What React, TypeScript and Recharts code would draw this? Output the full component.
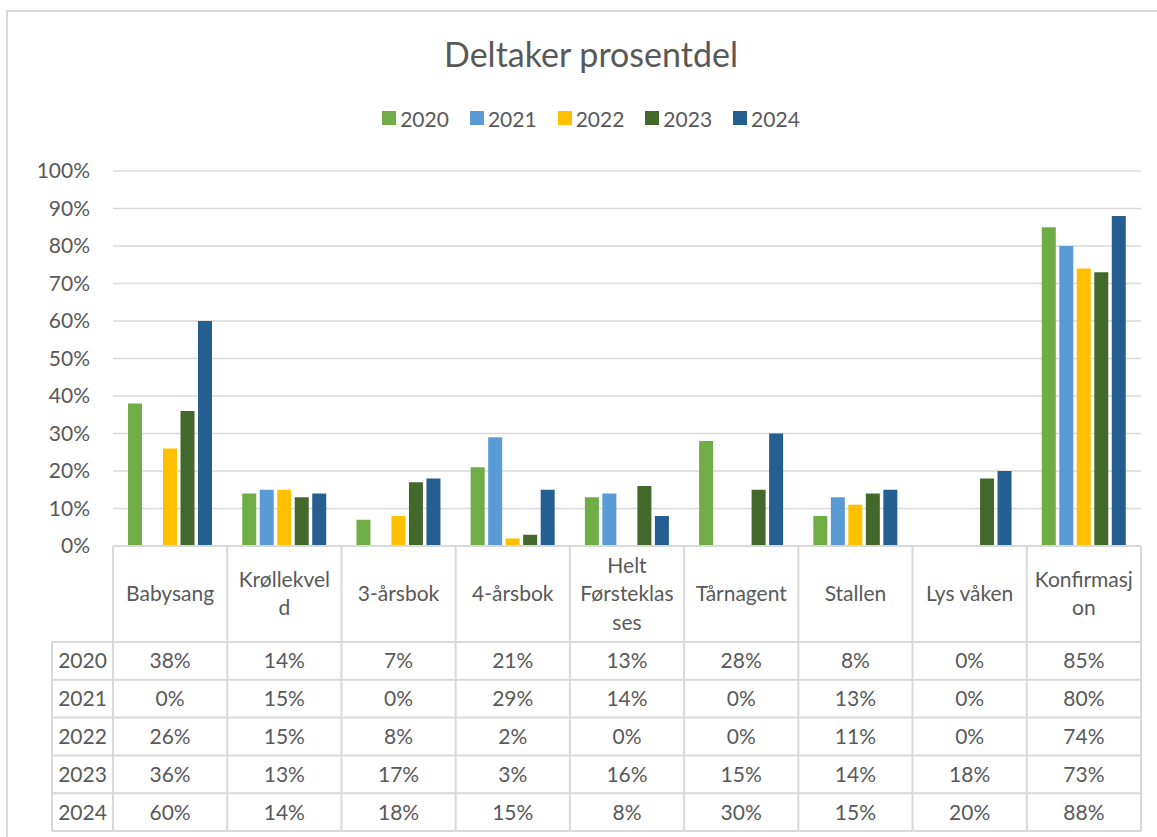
import React from 'react';
import { BarChart, Bar, XAxis, YAxis, CartesianGrid, Legend } from 'recharts';

const categories = ['Babysang', 'Krøllekveld', '3-årsbok', '4-årsbok', 'Helt Førsteklasses', 'Tårnagent', 'Stallen', 'Lys våken', 'Konfirmasjon'];
// how the table header wraps each name
const wrappedLabels: Record<string, string[]> = {
  'Krøllekveld': ['Krøllekvel', 'd'],
  'Helt Førsteklasses': ['Helt', 'Førsteklas', 'ses'],
  'Konfirmasjon': ['Konfirmasj', 'on'],
};

const years = ['2020', '2021', '2022', '2023', '2024'];
const v2020 = [38, 14, 7, 21, 13, 28, 8, 0, 85];
const v2021 = [0, 15, 0, 29, 14, 0, 13, 0, 80];
const v2022 = [26, 15, 8, 2, 0, 0, 11, 0, 74];
const v2023 = [36, 13, 17, 3, 16, 15, 14, 18, 73];
const v2024 = [60, 14, 18, 15, 8, 30, 15, 20, 88];
const yTicks = [0, 10, 20, 30, 40, 50, 60, 70, 80, 90, 100];

const seriesValues = [v2020, v2021, v2022, v2023, v2024];
const colors = ['#70AD47', '#5B9BD5', '#FFC000', '#43682B', '#255E91'];

const data = categories.map((name, i) => {
  const row: Record<string, string | number> = { name };
  years.forEach((yr, s) => { row[yr] = seriesValues[s][i]; });
  return row;
});

const CHART_W = 1149;
const CHART_H = 825;
const Y_W = 105;
const M_RIGHT = 16;
const BAND = (CHART_W - Y_W - M_RIGHT) / categories.length;
const HEAD_H = 96;
const ROW_H = 37.8;
const ROWHEAD_W = 61;
const TEXT = '#595959';
const LINE = '#d9d9d9';

const pct = (v: number) => `${v}%`;

const TableTick = (props: any) => {
  const { x, y, payload, index } = props;
  const left = x - BAND / 2;
  const right = x + BAND / 2;
  const bottom = y + HEAD_H + ROW_H * years.length;
  const name = payload.value as string;
  const lines = wrappedLabels[name] || [name];
  const headMid = y + HEAD_H / 2 - 1.5;
  const lh = 28.5;
  const isFirst = index === 0;
  const isLast = index === categories.length - 1;
  const rowMid = (r: number) => y + HEAD_H + ROW_H * r + ROW_H / 2 - 1;

  return (
    <g>
      <line x1={left} y1={y} x2={left} y2={bottom} stroke={LINE} strokeWidth={2} />
      {isLast && <line x1={right} y1={y} x2={right} y2={bottom} stroke={LINE} strokeWidth={2} />}
      {isFirst && <line x1={left - ROWHEAD_W} y1={y + HEAD_H} x2={left - ROWHEAD_W} y2={bottom} stroke={LINE} strokeWidth={2} />}
      {years.map((_, r) => (
        <line
          key={r}
          x1={isFirst ? left - ROWHEAD_W : left}
          x2={right}
          y1={y + HEAD_H + ROW_H * r}
          y2={y + HEAD_H + ROW_H * r}
          stroke={LINE}
          strokeWidth={2}
        />
      ))}
      <line x1={isFirst ? left - ROWHEAD_W : left} x2={right} y1={bottom} y2={bottom} stroke={LINE} strokeWidth={2} />
      {lines.map((ln, k) => (
        <text
          key={k}
          x={x}
          y={headMid + (k - (lines.length - 1) / 2) * lh}
          textAnchor="middle"
          dominantBaseline="central"
          fill={TEXT}
          fontSize={21}
        >
          {ln}
        </text>
      ))}
      {years.map((yr, r) => (
        <g key={yr}>
          {isFirst && (
            <text x={left - ROWHEAD_W / 2} y={rowMid(r)} textAnchor="middle" dominantBaseline="central" fill={TEXT} fontSize={21}>
              {yr}
            </text>
          )}
          <text x={x} y={rowMid(r)} textAnchor="middle" dominantBaseline="central" fill={TEXT} fontSize={21}>
            {pct(seriesValues[r][index])}
          </text>
        </g>
      ))}
    </g>
  );
};

const LegendContent = () => (
  <div style={{ display: 'flex', justifyContent: 'center', alignItems: 'center', height: 28, paddingLeft: 17, gap: 21 }}>
    {years.map((yr, i) => (
      <div key={yr} style={{ display: 'flex', alignItems: 'center', gap: 4 }}>
        <span style={{ display: 'inline-block', width: 14, height: 14, background: colors[i] }} />
        <span style={{ color: TEXT, fontSize: 21 }}>{yr}</span>
      </div>
    ))}
  </div>
);

export default function App() {
  return (
    <div
      style={{
        position: 'absolute',
        left: 6,
        top: 10,
        width: CHART_W,
        height: CHART_H,
        borderLeft: `2px solid ${LINE}`,
        borderTop: `2px solid ${LINE}`,
        fontFamily: 'Lato, sans-serif',
        background: '#fff',
      }}
    >
      <div
        style={{
          position: 'absolute',
          top: 22,
          left: 0,
          width: CHART_W,
          paddingLeft: 17,
          boxSizing: 'border-box',
          textAlign: 'center',
          fontSize: 34,
          lineHeight: '40px',
          color: TEXT,
          zIndex: 1,
        }}
      >
        Deltaker prosentdel
      </div>
      <BarChart
        width={CHART_W}
        height={CHART_H}
        data={data}
        margin={{ top: 131, right: M_RIGHT, left: 0, bottom: 0 }}
        barSize={14}
        barGap={3.5}
      >
        <CartesianGrid vertical={false} stroke={LINE} strokeWidth={1.5} />
        <XAxis
          dataKey="name"
          interval={0}
          height={291}
          tickLine={false}
          tickSize={0}
          tickMargin={0}
          axisLine={{ stroke: LINE, strokeWidth: 2 }}
          tick={(p: any) => <TableTick {...p} />}
        />
        <YAxis
          width={Y_W}
          domain={[0, 100]}
          ticks={yTicks}
          tickFormatter={pct}
          axisLine={false}
          tickLine={false}
          tickSize={0}
          tickMargin={23}
          tick={{ fill: TEXT, fontSize: 21 }}
        />
        <Legend
          verticalAlign="top"
          align="center"
          content={() => <LegendContent />}
          wrapperStyle={{ top: 92, left: 0, width: CHART_W }}
        />
        {years.map((yr, i) => (
          <Bar key={yr} dataKey={yr} fill={colors[i]} isAnimationActive={false} />
        ))}
      </BarChart>
    </div>
  );
}
